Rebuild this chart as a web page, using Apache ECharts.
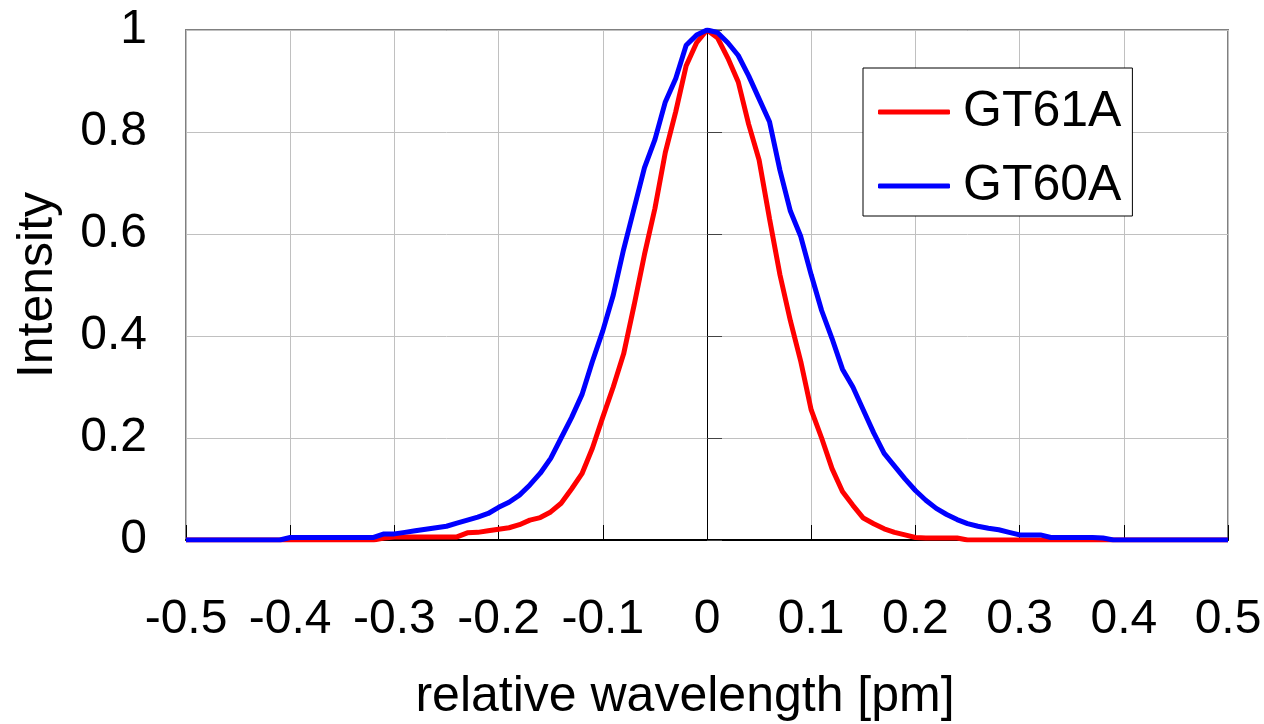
<!DOCTYPE html>
<html>
<head>
<meta charset="utf-8">
<script src="https://cdn.jsdelivr.net/npm/echarts@6/dist/echarts.min.js"></script>
<style>html,body{margin:0;padding:0;background:#fff;}#c{width:1264px;height:724px;}</style>
</head>
<body>
<div id="c"></div>
<script>
const wavelength = [
  -0.50,-0.49,-0.48,-0.47,-0.46,-0.45,-0.44,-0.43,-0.42,-0.41,
  -0.40,-0.39,-0.38,-0.37,-0.36,-0.35,-0.34,-0.33,-0.32,-0.31,
  -0.30,-0.29,-0.28,-0.27,-0.26,-0.25,-0.24,-0.23,-0.22,-0.21,
  -0.20,-0.19,-0.18,-0.17,-0.16,-0.15,-0.14,-0.13,-0.12,-0.11,
  -0.10,-0.09,-0.08,-0.07,-0.06,-0.05,-0.04,-0.03,-0.02,-0.01,
  0.00,0.01,0.02,0.03,0.04,0.05,0.06,0.07,0.08,0.09,
  0.10,0.11,0.12,0.13,0.14,0.15,0.16,0.17,0.18,0.19,
  0.20,0.21,0.22,0.23,0.24,0.25,0.26,0.27,0.28,0.29,
  0.30,0.31,0.32,0.33,0.34,0.35,0.36,0.37,0.38,0.39,
  0.40,0.41,0.42,0.43,0.44,0.45,0.46,0.47,0.48,0.49,
  0.50
];
const gt61a = [
  0,0,0,0,0,0,0,0,0,0,
  0,0,0,0,0,0,0,0,0,0.004,
  0.006,0.006,0.006,0.006,0.006,0.006,0.006,0.014,0.015,0.018,
  0.021,0.024,0.030,0.039,0.044,0.055,0.072,0.100,0.130,0.180,
  0.241,0.300,0.365,0.460,0.560,0.650,0.760,0.840,0.930,0.975,
  1.000,0.985,0.945,0.898,0.815,0.745,0.630,0.520,0.430,0.350,
  0.255,0.200,0.140,0.095,0.068,0.043,0.032,0.022,0.015,0.010,
  0.005,0.004,0.004,0.004,0.004,0,0,0,0,0,
  0,0,0,0,0,0,0,0,0,0,
  0,0,0,0,0,0,0,0,0,0,
  0
];
const gt60a = [
  0,0,0,0,0,0,0,0,0,0,
  0.005,0.005,0.005,0.005,0.005,0.005,0.005,0.005,0.005,0.012,
  0.012,0.015,0.018,0.021,0.024,0.027,0.033,0.039,0.045,0.052,
  0.064,0.074,0.088,0.108,0.131,0.160,0.200,0.240,0.285,0.350,
  0.410,0.480,0.570,0.650,0.730,0.785,0.859,0.905,0.970,0.990,
  1.000,0.995,0.975,0.950,0.910,0.865,0.820,0.725,0.645,0.595,
  0.520,0.450,0.395,0.335,0.300,0.255,0.210,0.170,0.145,0.120,
  0.097,0.078,0.062,0.050,0.040,0.032,0.027,0.023,0.020,0.015,
  0.010,0.010,0.010,0.005,0.005,0.005,0.005,0.005,0.004,0,
  0,0,0,0,0,0,0,0,0,0,
  0
];
const seriesNames = ['GT61A', 'GT60A'];

const FONT = '"Liberation Sans", Arial, sans-serif';
const chart = echarts.init(document.getElementById('c'));
const fmt = v => String(+(+v).toFixed(1));
chart.setOption({
  animation: false,
  backgroundColor: '#fff',
  textStyle: { fontFamily: FONT, color: '#000' },
  grid: { left: 186, right: 36, top: 30, bottom: 184, show: true, borderColor: '#808080', borderWidth: 2, containLabel: false, outerBoundsMode: 'none' },
  legend: {
    orient: 'vertical', left: 863, top: 68,
    icon: 'roundRect', itemWidth: 72, itemHeight: 5, itemGap: 24,
    padding: [19, 11, 5, 15],
    borderColor: '#000', borderWidth: 1, backgroundColor: '#fff',
    textStyle: { fontFamily: FONT, fontSize: 50, color: '#000', padding: [0, 0, 0, 8] },
    data: seriesNames
  },
  xAxis: {
    type: 'value', min: -0.5, max: 0.5, interval: 0.1,
    name: 'relative wavelength [pm]', nameLocation: 'middle', nameGap: 132,
    nameTextStyle: { fontFamily: FONT, fontSize: 50, color: '#000', padding: [0, 44, 0, 0] },
    axisLine: { show: true, onZero: false, lineStyle: { color: '#000', width: 2 } },
    axisTick: { show: true, inside: true, length: 15, lineStyle: { color: '#000', width: 1 } },
    axisLabel: { fontFamily: FONT, fontSize: 48, color: '#000', margin: 56, formatter: fmt },
    splitLine: { show: true, lineStyle: { color: '#c0c0c0', width: 1 } }
  },
  yAxis: [
    {
      type: 'value', min: 0, max: 1, interval: 0.2, position: 'left',
      axisLine: { show: true, onZero: true, lineStyle: { color: '#000', width: 1 } },
      axisTick: { show: true, inside: true, length: 15, lineStyle: { color: '#444', width: 1 } },
      axisLabel: { show: false },
      splitLine: { show: true, lineStyle: { color: '#c0c0c0', width: 1 } }
    },
    {
      type: 'value', min: 0, max: 1, interval: 0.2, position: 'left',
      name: 'Intensity', nameLocation: 'middle', nameGap: 123,
      nameTextStyle: { fontFamily: FONT, fontSize: 50, color: '#000' },
      axisLine: { show: false, onZero: false },
      axisTick: { show: false },
      axisLabel: { fontFamily: FONT, fontSize: 48, color: '#000', margin: 39, formatter: fmt },
      splitLine: { show: false }
    }
  ],
  series: [
    {
      name: seriesNames[0], type: 'line', yAxisIndex: 0, symbol: 'none',
      lineStyle: { color: '#ff0000', width: 5 }, itemStyle: { color: '#ff0000' },
      data: wavelength.map((x, i) => [x, gt61a[i]])
    },
    {
      name: seriesNames[1], type: 'line', yAxisIndex: 0, symbol: 'none',
      lineStyle: { color: '#0000ff', width: 5 }, itemStyle: { color: '#0000ff' },
      data: wavelength.map((x, i) => [x, gt60a[i]])
    }
  ]
});
</script>
</body>
</html>
